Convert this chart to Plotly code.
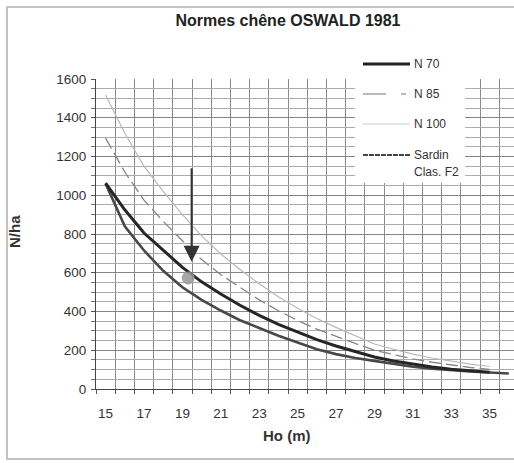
import plotly.graph_objects as go

# Dominant height (m) and stem density norms (N/ha)
ho = list(range(15, 36))
ho_sardin = list(range(15, 37))

n70 = [1063, 925, 805, 715, 628, 553, 490, 432, 380, 333, 292, 255, 222, 193,
       165, 145, 128, 114, 102, 93, 86]
n85 = [1295, 1120, 975, 865, 765, 668, 590, 524, 460, 404, 354, 309, 270, 235,
       200, 176, 155, 138, 123, 111, 101]
n100 = [1517, 1320, 1150, 1020, 900, 790, 697, 617, 543, 476, 417, 364, 318, 277,
        232, 205, 180, 160, 143, 128, 116]
sardin = [1060, 840, 715, 610, 525, 460, 405, 355, 315, 275, 240, 205, 180, 160,
          145, 130, 115, 105, 97, 90, 85, 80]

# Stand observation and the arrow pointing at it
point_ho = [19.3]
point_n = [573]
arrow_ho = 19.48
arrow_from_n = 1147
arrow_to_n = 657

x_ticks = list(range(15, 36, 2))
y_ticks = list(range(0, 1601, 200))
x_grid = [14.5 + i for i in range(23)]

W, H = 514, 463
L, R, T, B = 96, 0, 79, 74
PW, PH = W - L - R, H - T - B


def px(x):
    return (x - L) / PW


def py(y):
    return (H - B - y) / PH


FONT = "Arial, Liberation Sans, sans-serif"

fig = go.Figure()

fig.add_trace(go.Scatter(x=ho, y=n100, mode="lines", name="N 100",
                         line=dict(color="#b8b8b8", width=1.2)))
fig.add_trace(go.Scatter(x=ho, y=n85, mode="lines", name="N 85",
                         line=dict(color="#858585", width=1.3, dash="12px,5px")))
fig.add_trace(go.Scatter(x=ho_sardin, y=sardin, mode="lines", name="Sardin Clas. F2",
                         line=dict(color="#484848", width=2.6)))
fig.add_trace(go.Scatter(x=ho, y=n70, mode="lines", name="N 70",
                         line=dict(color="#262626", width=3)))
fig.add_trace(go.Scatter(x=point_ho, y=point_n, mode="markers", showlegend=False,
                         marker=dict(size=13, color="rgba(150,150,150,0.85)")))

fig.add_annotation(x=arrow_ho, y=arrow_to_n, ax=arrow_ho, ay=arrow_from_n,
                   xref="x", yref="y", axref="x", ayref="y", text="",
                   showarrow=True, arrowhead=2, arrowsize=1.6, arrowwidth=2,
                   arrowcolor="#333333")

shapes = []
# outer frame
shapes.append(dict(type="rect", xref="paper", yref="paper",
                   x0=px(7), x1=px(520), y0=py(459), y1=py(7),
                   line=dict(color="#b0b0b0", width=1.5), layer="below"))
# legend box
shapes.append(dict(type="rect", xref="paper", yref="paper",
                   x0=px(355), x1=px(465), y0=py(183), y1=py(52),
                   fillcolor="white", line=dict(width=0), layer="above"))
legend_items = [
    (64, dict(color="#222222", width=3), ["N 70"]),
    (94, dict(color="#777777", width=1.2, dash="23px,15px,5px"), ["N 85"]),
    (124, dict(color="#cccccc", width=1.2), ["N 100"]),
    (155, dict(color="#444444", width=2.2, dash="5px,1px"), ["Sardin", "Clas. F2"]),
]
annotations = []
for yy, ln, labels in legend_items:
    shapes.append(dict(type="line", xref="paper", yref="paper",
                       x0=px(363), x1=px(410), y0=py(yy), y1=py(yy),
                       line=ln, layer="above"))
    for k, lab in enumerate(labels):
        annotations.append(dict(x=px(412), y=py(yy + 17 * k), xref="paper", yref="paper",
                                text=lab, showarrow=False, xanchor="left",
                                yanchor="middle", font=dict(family=FONT, size=12,
                                                            color="#333333")))

annotations.append(dict(x=px(287), y=py(435), xref="paper", yref="paper",
                        text="<b>Ho (m)</b>", showarrow=False,
                        xanchor="center", yanchor="middle",
                        font=dict(family=FONT, size=15, color="#333333")))
annotations.append(dict(x=px(14), y=py(232), xref="paper", yref="paper",
                        text="<b>N/ha</b>", showarrow=False, textangle=-90,
                        xanchor="center", yanchor="middle",
                        font=dict(family=FONT, size=15, color="#333333")))

for a in annotations:
    fig.add_annotation(**a)

fig.update_layout(
    width=W, height=H,
    margin=dict(l=L, r=R, t=T, b=B),
    paper_bgcolor="white", plot_bgcolor="white",
    showlegend=False,
    shapes=shapes,
    title=dict(text="<b>Normes chêne OSWALD 1981</b>", xref="container", yref="container",
               x=288 / W, y=(H - 20) / H, xanchor="center", yanchor="middle",
               font=dict(family=FONT, size=16, color="#222222")),
    font=dict(family=FONT, size=13.5, color="#333333"),
)

fig.update_xaxes(
    range=[14.5, 36.27], tickmode="array", tickvals=x_ticks,
    showgrid=False, ticks="", ticklabelstandoff=12,
    showline=True, linecolor="#444444", linewidth=1,
    zeroline=False,
    minor=dict(tickmode="array", tickvals=x_grid, ticks="outside", ticklen=4,
               tickcolor="#555555", showgrid=True, gridcolor="#8a8a8a", gridwidth=1),
)
fig.update_yaxes(
    range=[0, 1600], tickmode="array", tickvals=y_ticks,
    showgrid=True, gridcolor="#858585", gridwidth=1,
    ticks="outside", ticklen=4, tickcolor="#555555", ticklabelstandoff=2,
    showline=True, linecolor="#444444", linewidth=1, zeroline=False,
    minor=dict(tick0=0, dtick=50, ticks="outside", ticklen=4, tickcolor="#777777",
               showgrid=True, gridcolor="#ababab", gridwidth=1),
)

fig.write_html("out.html")
